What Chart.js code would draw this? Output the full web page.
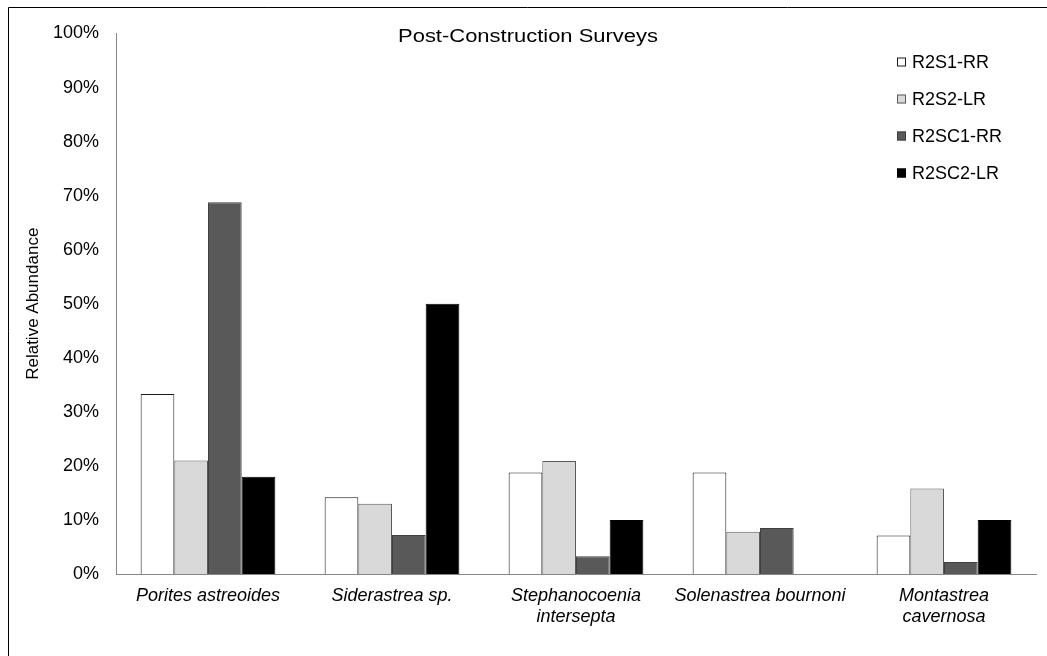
<!DOCTYPE html>
<html>
<head>
<meta charset="utf-8">
<script src="https://cdn.jsdelivr.net/npm/chart.js@4"></script>
<style>
  html, body { margin: 0; padding: 0; background: #fff; }
  #wrap { width: 1047px; height: 656px; position: relative; }
</style>
</head>
<body>
<div id="wrap"><canvas id="surveyChart"></canvas></div>
<script>
// species on the x axis (multi-line where the original wraps)
const species = [
    'Porites astreoides',
    'Siderastrea sp.',
    ['Stephanocoenia', 'intersepta'],
    'Solenastrea bournoni',
    ['Montastrea', 'cavernosa']
];

const seriesNames = ['R2S1-RR', 'R2S2-LR', 'R2SC1-RR', 'R2SC2-LR'];

// relative abundance, percent
const r2s1RR = [33.3, 14.2, 18.8, 18.8, 7.1];
const r2s2LR = [21.0, 13.0, 20.9, 7.8, 15.8];
const r2sc1RR = [68.8, 7.2, 3.3, 8.5, 2.2];
const r2sc2LR = [18.0, 50.0, 10.0, 0, 10.0];

const yTicks = [0, 10, 20, 30, 40, 50, 60, 70, 80, 90, 100];

const fills = ['#ffffff', '#d9d9d9', '#595959', '#000000'];
const edges = ['#1a1a1a', '#5a5a5a', '#404040', '#000000'];

const seriesValues = [r2s1RR, r2s2LR, r2sc1RR, r2sc2LR];

const FONT = '"Liberation Sans", Arial, sans-serif';

// white page, frame on the top/left edges, chart title and legend inside the plot
const decorPlugin = {
    id: 'decor',
    beforeDraw(chart) {
        const ctx = chart.ctx;
        ctx.save();
        ctx.fillStyle = '#fff';
        ctx.fillRect(0, 0, chart.width, chart.height);
        ctx.strokeStyle = '#000';
        ctx.lineWidth = 1;
        ctx.beginPath();
        ctx.moveTo(8.5, chart.height);
        ctx.lineTo(8.5, 7.5);
        ctx.lineTo(chart.width, 7.5);
        ctx.stroke();
        ctx.restore();
    },
    afterDraw(chart) {
        const ctx = chart.ctx;
        ctx.save();
        // title
        ctx.fillStyle = '#000';
        ctx.font = '18px ' + FONT;
        ctx.textAlign = 'center';
        ctx.textBaseline = 'middle';
        ctx.translate(528, 37);
        ctx.scale(1.22, 1);
        ctx.fillText('Post-Construction Surveys', 0, 0);
        ctx.restore();

        // legend
        ctx.save();
        ctx.font = '18px ' + FONT;
        ctx.textAlign = 'left';
        ctx.textBaseline = 'middle';
        chart.data.datasets.forEach((ds, i) => {
            const y = 62 + i * 37;
            ctx.fillStyle = ds.backgroundColor;
            ctx.fillRect(897, y - 4.5, 9, 9);
            ctx.strokeStyle = ds.borderColor;
            ctx.lineWidth = 1;
            ctx.strokeRect(897.5, y - 4, 8, 8);
            ctx.fillStyle = '#000';
            ctx.fillText(ds.label, 912, y + 1);
        });
        ctx.restore();
    }
};

const ctx = document.getElementById('surveyChart');

new Chart(ctx, {
    type: 'bar',
    data: {
        labels: species,
        datasets: seriesNames.map((name, i) => ({
            label: name,
            data: seriesValues[i],
            backgroundColor: fills[i],
            borderColor: edges[i],
            borderWidth: 1,
            categoryPercentage: 0.732,
            barPercentage: 1.0
        }))
    },
    options: {
        responsive: true,
        maintainAspectRatio: false,
        animation: false,
        layout: {
            padding: { left: 0, right: 11, top: 33.5, bottom: 0 }
        },
        plugins: {
            legend: { display: false },
            title: { display: false },
            tooltip: { enabled: false }
        },
        scales: {
            x: {
                grid: { display: false, drawTicks: false },
                border: { display: true, color: '#868686', width: 1 },
                ticks: {
                    color: '#000',
                    font: { family: FONT, size: 18, style: 'italic', lineHeight: 1.2 },
                    padding: 11,
                    autoSkip: false,
                    maxRotation: 0
                },
                afterFit(scale) { scale.height = 82; }
            },
            y: {
                min: 0,
                max: 100,
                afterBuildTicks(scale) {
                    scale.ticks = yTicks.map(v => ({ value: v }));
                },
                grid: { display: false, drawTicks: false },
                border: { display: true, color: '#868686', width: 1 },
                ticks: {
                    color: '#000',
                    font: { family: FONT, size: 18 },
                    padding: 17,
                    callback: v => v + '%'
                },
                title: {
                    display: true,
                    text: 'Relative Abundance',
                    color: '#000',
                    font: { family: FONT, size: 17 },
                    padding: { top: 23, bottom: 0 }
                },
                afterFit(scale) { scale.width = 116; }
            }
        }
    },
    plugins: [decorPlugin]
});
</script>
</body>
</html>
